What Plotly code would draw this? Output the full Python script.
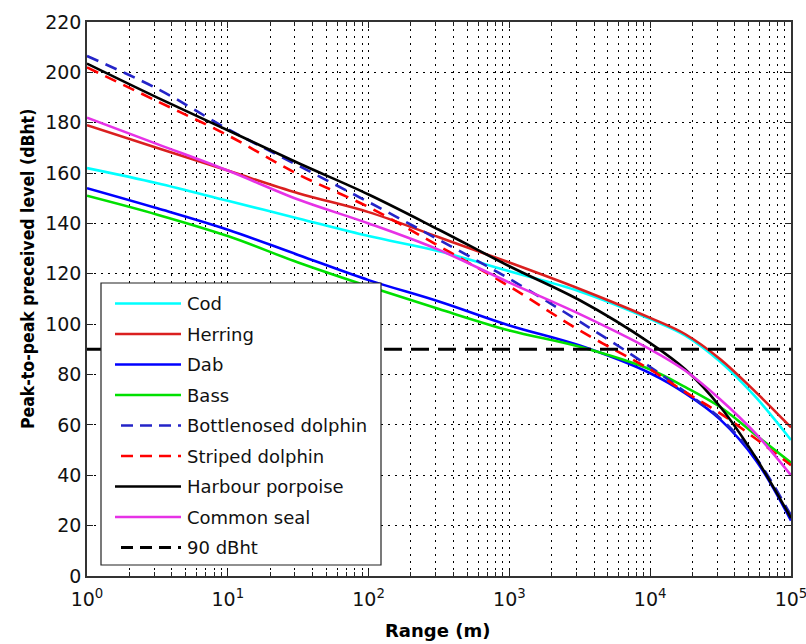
import plotly.graph_objects as go

# ---------------- data ----------------
range_m = [1, 3.16, 10, 31.6, 100, 316, 1000, 3162, 10000, 17783, 31623, 56234, 100000]

series_names = ["Cod", "Herring", "Dab", "Bass", "Bottlenosed dolphin",
                "Striped dolphin", "Harbour porpoise", "Common seal"]

cod = [162, 156, 149, 142, 135, 129, 121, 113, 102, 95.5, 85, 71, 54]
herring = [179, 170, 161, 152, 144.5, 134.5, 124.5, 114, 102.5, 96, 86, 73, 59]
dab = [154, 146, 137.5, 127.5, 117.5, 109, 99.5, 91.5, 80.5, 72.5, 62, 46, 22]
bass = [151, 143.5, 135, 124.5, 115, 106, 97.5, 91, 82, 75, 67, 56, 45]
bottlenosed = [206.5, 193.5, 177.5, 163, 148.5, 133.5, 118, 101, 83, 73, 62.5, 47, 24]
striped = [202, 188.5, 175, 159.5, 146.5, 131, 115, 97.5, 82, 73, 64.5, 54.5, 44]
harbour = [203.5, 190, 177, 164, 151.5, 137.5, 123, 109.5, 92.5, 82, 67, 47, 23]
seal = [182, 171.5, 161, 149.5, 140, 129.5, 116.5, 104, 90, 81.5, 70, 56.5, 40]

threshold_name = "90 dBht"
threshold_x = [1, 100000]
threshold_y = [90, 90]

x_tickvals = [1, 10, 100, 1000, 10000, 100000]
x_ticktext = ["10<sup>0</sup>", "10<sup>1</sup>", "10<sup>2</sup>",
              "10<sup>3</sup>", "10<sup>4</sup>", "10<sup>5</sup>"]
x_minor = [m * d for d in [1, 10, 100, 1000, 10000] for m in range(2, 10)]
y_tickvals = list(range(0, 221, 20))

x_title = "<b>Range (m)</b>"
y_title = "<b>Peak-to-peak preceived level (dBht)</b>"

# ---------------- styles ----------------
all_values = [cod, herring, dab, bass, bottlenosed, striped, harbour, seal]
colors = ["#00FFFF", "#DA1F1F", "#0000FF", "#00E000", "#2424C8",
          "#FF0000", "#000000", "#E632E6"]
dashes = ["solid", "solid", "solid", "solid", "12px,8px", "12px,8px", "solid", "solid"]
thr_color = "#000000"
thr_dash = "18px,9px"

FONT = "DejaVu Sans"

fig = go.Figure()
for name, vals, col, dsh in zip(series_names, all_values, colors, dashes):
    fig.add_trace(go.Scatter(
        x=range_m, y=vals, mode="lines", name=name, showlegend=False,
        line=dict(color=col, width=2.6, dash=dsh, shape="spline", smoothing=1.0)))
fig.add_trace(go.Scatter(
    x=threshold_x, y=threshold_y, mode="lines", name=threshold_name, showlegend=False,
    line=dict(color=thr_color, width=3, dash=thr_dash)))

# ---------------- layout ----------------
L, R, T, B = 87, 15, 22, 68
W, H = 806, 644
pw, ph = W - L - R, H - T - B


def px(x):
    return (x - L) / pw


def py(y):
    return (H - B - y) / ph


grid_dash = "2px,5px"
axis_common = dict(
    ticks="inside", ticklen=6, tickwidth=1, tickcolor="#222",
    showline=True, linecolor="#333", linewidth=1.5, mirror="allticks",
    showgrid=True, gridcolor="#000", gridwidth=1, griddash=grid_dash,
    zeroline=False, tickfont=dict(family=FONT, size=19, color="#111"),
    ticklabeloverflow="allow", automargin=False,
)

fig.update_layout(
    width=W, height=H,
    margin=dict(l=L, r=R, t=T, b=B, autoexpand=False),
    paper_bgcolor="white", plot_bgcolor="white",
    font=dict(family=FONT, size=18, color="black"),
    showlegend=False,
)
fig.update_xaxes(
    type="log", range=[0, 5], tickmode="array", tickvals=x_tickvals, ticktext=x_ticktext,
    minor=dict(tickmode="array", tickvals=x_minor, ticks="inside", ticklen=4, tickcolor="#222",
               showgrid=True, gridcolor="#000", gridwidth=1, griddash=grid_dash),
    ticklabelstandoff=5,
    **axis_common,
)
fig.update_yaxes(
    range=[0, 220], tickmode="array", tickvals=y_tickvals,
    **axis_common,
)

# axis titles placed as in the reference
fig.add_annotation(xref="paper", yref="paper", x=px(437), y=py(630),
                   xanchor="center", yanchor="middle", showarrow=False,
                   text=x_title, font=dict(family=FONT, size=18, color="black"))
fig.add_annotation(xref="paper", yref="paper", x=px(28), y=py(269),
                   xanchor="center", yanchor="middle", showarrow=False, textangle=-90,
                   text=y_title,
                   font=dict(family="DejaVu Sans Condensed, DejaVu Sans", size=17.5, color="black"))

# ---------------- legend (drawn as a boxed key) ----------------
leg_left, leg_right, leg_top, leg_bottom = 101, 381, 283, 565
fig.add_shape(type="rect", xref="paper", yref="paper",
              x0=px(leg_left), x1=px(leg_right), y0=py(leg_bottom), y1=py(leg_top),
              line=dict(color="#222", width=1.2), fillcolor="white", layer="above")

leg_names = series_names + [threshold_name]
leg_colors = colors + [thr_color]
leg_dashes = dashes + [thr_dash]
leg_widths = [2.6] * len(series_names) + [3]
row0, row_step = 303.5, 30.5
for i, (nm, col, dsh, wd) in enumerate(zip(leg_names, leg_colors, leg_dashes, leg_widths)):
    yy = row0 + i * row_step
    x_start = 115 if dsh == "solid" else 121
    fig.add_shape(type="line", xref="paper", yref="paper",
                  x0=px(x_start), x1=px(181), y0=py(yy), y1=py(yy),
                  line=dict(color=col, width=wd, dash=dsh if dsh == "solid" else "12px,7px"),
                  layer="above")
    fig.add_annotation(xref="paper", yref="paper", x=px(185), y=py(yy),
                       xanchor="left", yanchor="middle", showarrow=False,
                       text=nm, font=dict(family=FONT, size=18, color="#111"))

fig.write_html("out.html")
